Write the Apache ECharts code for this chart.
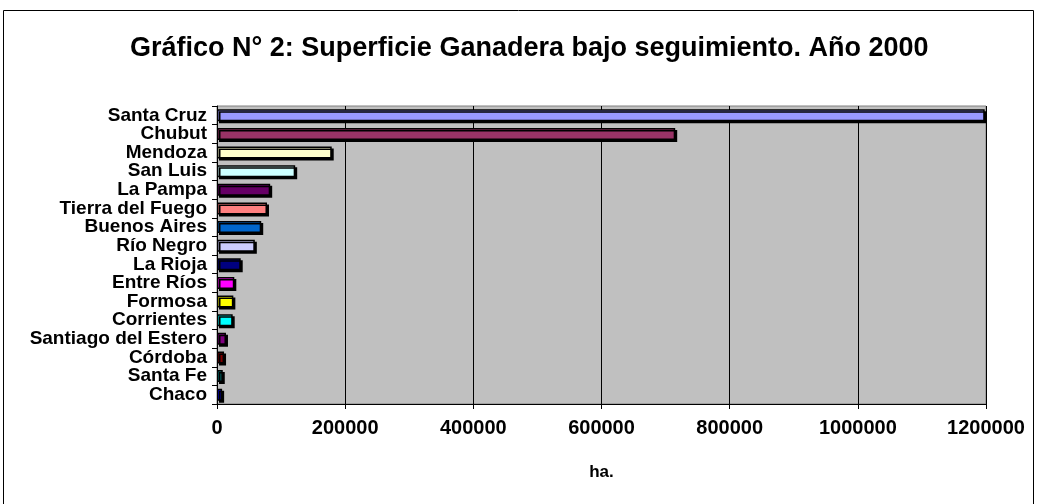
<!DOCTYPE html>
<html>
<head>
<meta charset="utf-8">
<script src="https://cdn.jsdelivr.net/npm/echarts@6/dist/echarts.min.js"></script>
<style>
html,body{margin:0;padding:0;background:#fff;}
#chart{width:1037px;height:504px;}
</style>
</head>
<body>
<div id="chart"></div>
<script>
// provincias y superficie (ha.)
var provincias = ['Santa Cruz','Chubut','Mendoza','San Luis','La Pampa','Tierra del Fuego','Buenos Aires','Río Negro','La Rioja','Entre Ríos','Formosa','Corrientes','Santiago del Estero','Córdoba','Santa Fe','Chaco'];
var superficie = [1198000,715000,179000,122000,83000,78000,69000,59000,37000,27000,25500,24500,14000,11000,9000,8000];
var colores = ['#9999FF','#993366','#FFFFCC','#CCFFFF','#660066','#FF8080','#0066CC','#CCCCFF','#000080','#FF00FF','#FFFF00','#00FFFF','#800080','#800000','#008080','#0000FF'];
var ticksX = [0,200000,400000,600000,800000,1000000,1200000];

var fuente = '"Liberation Sans", Arial, sans-serif';

var datos = new Array();
for (var i = 0; i < superficie.length; i++) {
	datos.push({
		value: superficie[i],
		itemStyle: {color: colores[i]}
	});
}

var myChart = echarts.init(document.getElementById('chart'));
var option = {
	animation: false,
	title: {
		text: 'Gráfico N° 2: Superficie Ganadera bajo seguimiento. Año 2000',
		left: 125,
		top: 30,
		textStyle: {fontFamily: fuente, fontWeight: 'bold', fontSize: 27, color: '#000'}
	},
	graphic: [{
		type: 'rect',
		shape: {x: 3.5, y: 10.5, width: 1030, height: 500},
		style: {fill: 'none', stroke: '#000', lineWidth: 1},
		silent: true
	}],
	grid: {
		left: 217, right: 51, top: 106, bottom: 100,
		show: true, backgroundColor: '#C0C0C0', borderColor: '#808080', borderWidth: 1
	},
	xAxis: {
		type: 'value',
		min: ticksX[0],
		max: ticksX[ticksX.length - 1],
		interval: 200000,
		name: 'ha.',
		nameLocation: 'middle',
		nameGap: 60,
		nameTextStyle: {fontFamily: fuente, fontWeight: 'bold', fontSize: 17, color: '#000'},
		axisLine: {show: true, lineStyle: {color: '#000', width: 1}},
		axisTick: {show: true, length: 5, lineStyle: {color: '#000'}},
		axisLabel: {
			fontFamily: fuente, fontWeight: 'bold', fontSize: 20, color: '#000', margin: 14,
			formatter: function (v) { return String(v); }
		},
		splitLine: {show: true, lineStyle: {color: '#000', width: 1}}
	},
	yAxis: {
		type: 'category',
		inverse: true,
		data: provincias,
		axisLine: {show: true, lineStyle: {color: '#000', width: 1}},
		axisTick: {show: true, length: 5, lineStyle: {color: '#000'}},
		axisLabel: {interval: 0, fontFamily: fuente, fontWeight: 'bold', fontSize: 19, color: '#000', margin: 10}
	},
	series: [{
		type: 'bar',
		data: datos,
		barWidth: '64%',
		itemStyle: {
			borderColor: '#000',
			borderWidth: 1.5,
			shadowColor: '#000',
			shadowOffsetX: 2,
			shadowOffsetY: 2,
			shadowBlur: 0
		}
	}]
};
myChart.setOption(option);
</script>
</body>
</html>
